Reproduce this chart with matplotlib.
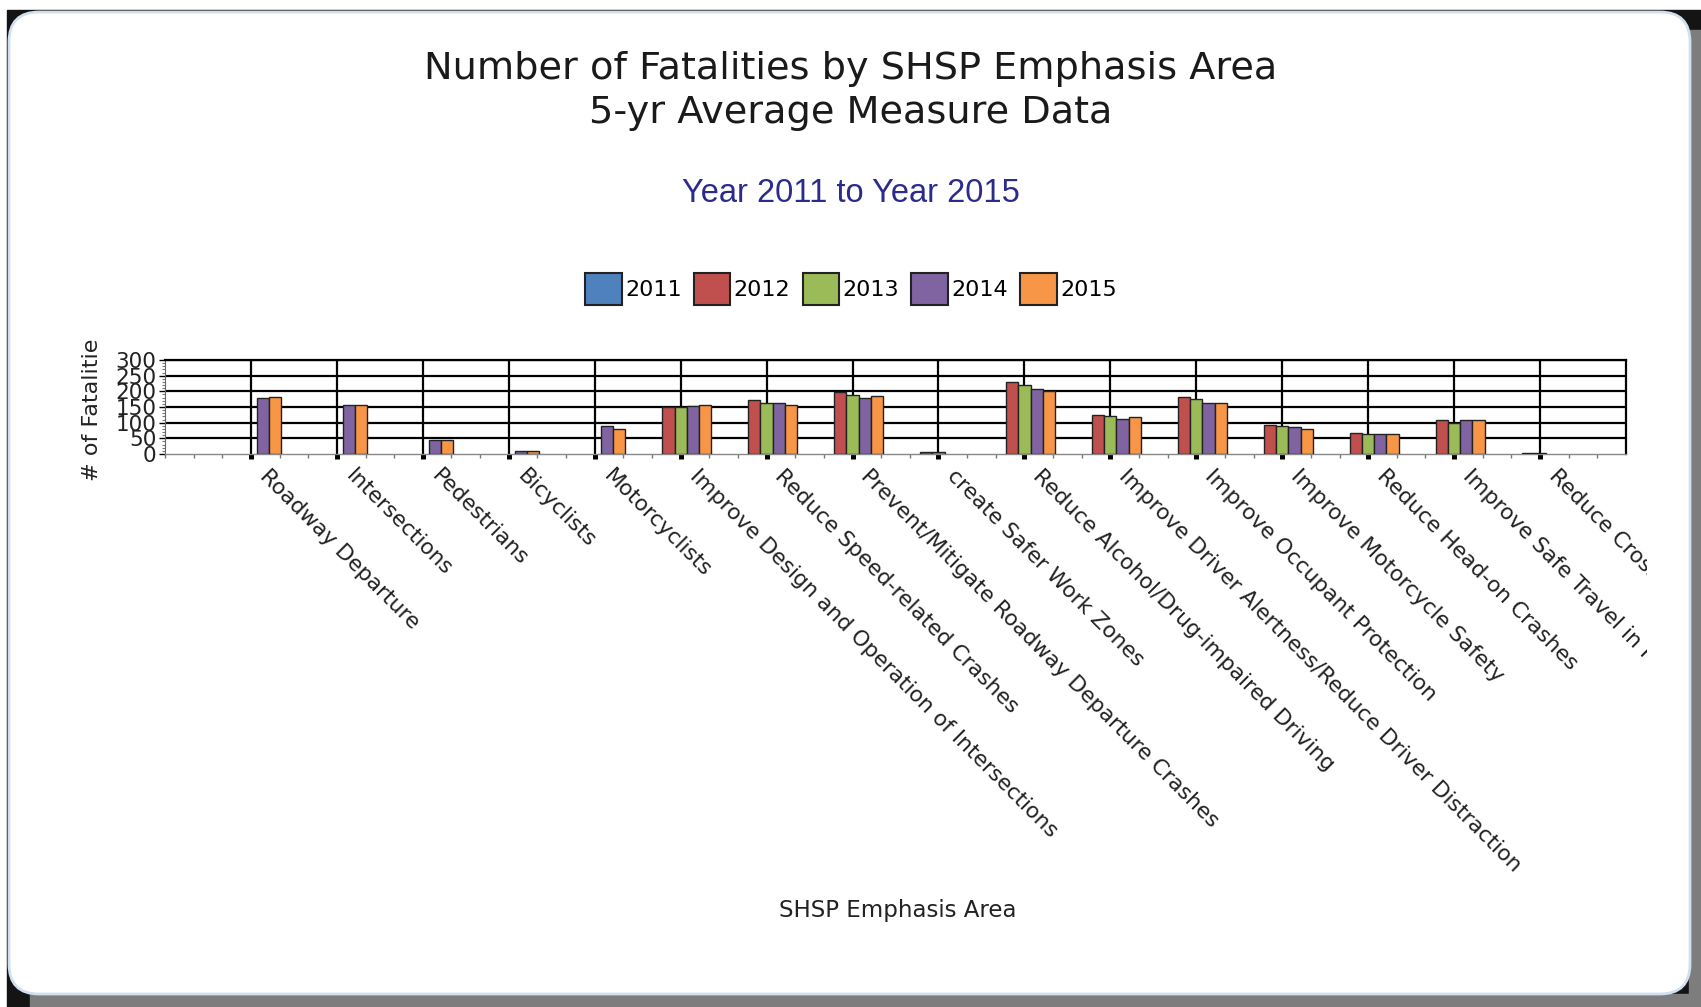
import numpy as np
import matplotlib
matplotlib.use("Agg")
import matplotlib.pyplot as plt
from matplotlib.patches import Patch, Rectangle, FancyBboxPatch
from matplotlib.transforms import Bbox, TransformedBbox, ScaledTranslation
from matplotlib.ticker import FixedLocator, MultipleLocator

# Emphasis areas (x categories)
areas = [
    "Roadway Departure",
    "Intersections",
    "Pedestrians",
    "Bicyclists",
    "Motorcyclists",
    "Improve Design and Operation of Intersections",
    "Reduce Speed-related Crashes",
    "Prevent/Mitigate Roadway Departure Crashes",
    "create Safer Work Zones",
    "Reduce Alcohol/Drug-impaired Driving",
    "Improve Driver Alertness/Reduce Driver Distraction",
    "Improve Occupant Protection",
    "Improve Motorcycle Safety",
    "Reduce Head-on Crashes",
    "Improve Safe Travel in Rural Areas",
    "Reduce Cross-Median Crashes",
]

years = ["2011", "2012", "2013", "2014", "2015"]

# values
fat_2011 = [0, 0, 0, 0, 0, 0, 0, 0, 0, 0, 0, 0, 0, 0, 0, 0]
fat_2012 = [0, 0, 0, 0, 0, 150, 171, 198, 5, 231, 123, 183, 94, 67, 110, 3]
fat_2013 = [0, 0, 0, 0, 0, 150, 164, 188, 5, 219, 121, 176, 88, 63, 98, 3]
fat_2014 = [179, 155, 46, 8, 88, 152, 164, 179, 0, 206, 113, 164, 85, 63, 108, 0]
fat_2015 = [183, 155, 44, 9, 81, 155, 157, 186, 0, 200, 119, 162, 81, 63, 108, 0]
series = [fat_2011, fat_2012, fat_2013, fat_2014, fat_2015]

colors = ["#4F81BD", "#C0504D", "#9BBB59", "#8064A2", "#F79646"]

W, H = 1701, 1007
fig = plt.figure(figsize=(W / 100, H / 100), dpi=100)
inch = fig.dpi_scale_trans


def px_box(x0, y0, x1, y1):
    # pixel box (top-down y) -> inches (bottom-up)
    return x0 / 100, (H - y1) / 100, (x1 - x0) / 100, (y1 - y0) / 100


# window-like frame around the chart
x0, y0, w, h = px_box(7, 10, 1701, 1007)
fig.add_artist(Rectangle((x0, y0), w, h, transform=inch, color="#141414", zorder=-5))
x0, y0, w, h = px_box(30, 994, 1701, 1007)
fig.add_artist(Rectangle((x0, y0), w, h, transform=inch, color="#7d7d7d", zorder=-4))
x0, y0, w, h = px_box(1689, 30, 1701, 1000)
fig.add_artist(Rectangle((x0, y0), w, h, transform=inch, color="#7d7d7d", zorder=-4))
x0, y0, w, h = px_box(9, 12, 1690, 994)
fig.add_artist(FancyBboxPatch((x0, y0), w, h, boxstyle="round,pad=0,rounding_size=0.3",
                              transform=inch, facecolor="white", edgecolor="#d3dff0",
                              linewidth=2, zorder=-3))

# titles
fig.text(851 / W, 1 - 69 / H, "Number of Fatalities by SHSP Emphasis Area",
         ha="center", va="center", fontsize=27.5, color="#1a1a1a")
fig.text(851 / W, 1 - 113 / H, "5-yr Average Measure Data",
         ha="center", va="center", fontsize=27.5, color="#1a1a1a")
fig.text(851 / W, 1 - 194 / H, "Year 2011 to Year 2015", ha="center", va="center",
         fontsize=23.5, color="#2b2b8c", family="Liberation Sans")

# legend
handles = [Patch(facecolor=c, edgecolor="#222222", linewidth=1.5, label=y)
           for c, y in zip(colors, years)]
fig.legend(handles=handles, loc="center", bbox_to_anchor=(851 / W, 1 - 289 / H),
           ncol=5, frameon=False, fontsize=16, handlelength=1.65, handleheight=1.9,
           handletextpad=0.15, columnspacing=0.55)

# plot area
ax = fig.add_axes([165 / W, 1 - 454 / H, (1626 - 165) / W, (454 - 360) / H])
ax.set_facecolor("white")
x = np.arange(len(areas))
bw = 0.142
for k, (vals, c) in enumerate(zip(series, colors)):
    edges = ["#222222" if v > 0 else "none" for v in vals]
    ax.bar(x + (k - 2) * bw, vals, bw, color=c, edgecolor=edges, linewidth=1, zorder=3)

ax.set_xlim(-1, len(areas))
ax.set_ylim(0, 300)
ax.set_yticks(range(0, 301, 50))
ax.yaxis.set_minor_locator(MultipleLocator(10))
ax.set_xticks(x)
ax.set_xticklabels(areas, rotation=-45, ha="left", va="top", rotation_mode="anchor",
                   fontsize=15.7, color="#222222")
ax.xaxis.set_minor_locator(FixedLocator(np.arange(-1, len(areas), 1 / 3)))

ax.set_axisbelow(True)
ax.grid(True, which="major", color="black", linewidth=1.6)
ax.get_ygridlines()[0].set_visible(False)

for side in ["top", "right"]:
    ax.spines[side].set_color("black")
    ax.spines[side].set_linewidth(1.6)
ax.spines["left"].set_color("#666666")
ax.spines["left"].set_linewidth(0.8)
ax.spines["bottom"].set_color("#888888")
ax.spines["bottom"].set_linewidth(1)

ax.tick_params(axis="x", which="major", direction="out", length=3.6, width=3.6,
               color="black", pad=5)
ax.tick_params(axis="x", which="minor", direction="out", length=3, width=1, color="#777777")
ax.tick_params(axis="y", which="major", direction="out", length=4, width=1,
               color="black", labelsize=15.5, labelcolor="#222222", pad=2)
ax.tick_params(axis="y", which="minor", direction="out", length=2, width=0.8, color="#777777")

clip = TransformedBbox(Bbox.from_extents(0, 0, 16.47, H / 100), inch)
shift = ScaledTranslation(19 / 100, 0, inch)
for lab in ax.get_xticklabels():
    lab.set_transform(lab.get_transform() + shift)
    lab.set_clip_on(True)
    lab.set_clip_box(clip)

fig.text(92 / W, 1 - 410 / H, "# of Fatalitie", rotation=90, ha="center", va="center",
         fontsize=16, color="#222222")
fig.text(898 / W, 1 - 911 / H, "SHSP Emphasis Area", ha="center", va="center",
         fontsize=16.5, color="#222222")

fig.savefig("out.png", dpi=100)
